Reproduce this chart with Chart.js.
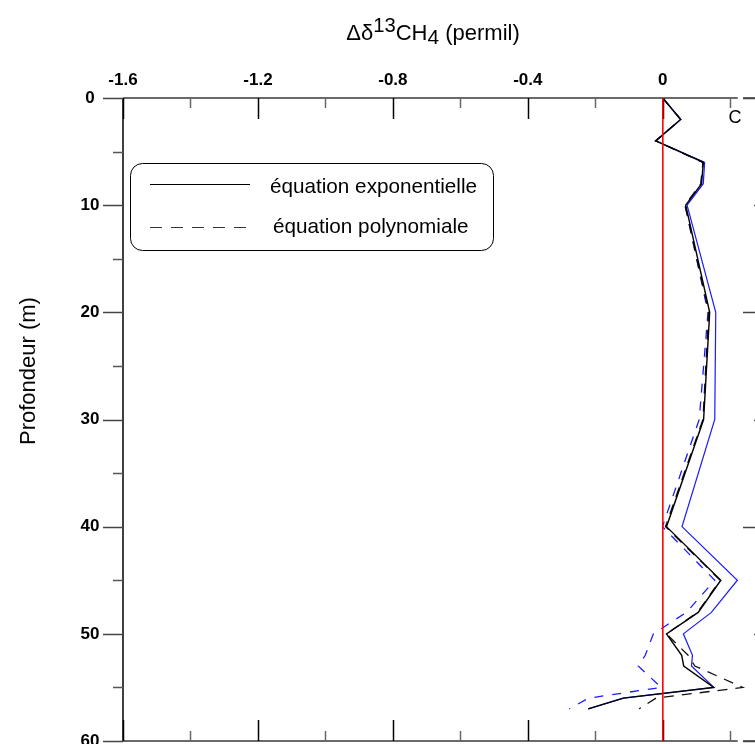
<!DOCTYPE html>
<html><head><meta charset="utf-8">
<script src="https://cdn.jsdelivr.net/npm/chart.js@4.4.0/dist/chart.umd.min.js"></script>
<style>
html,body{margin:0;padding:0;background:#fff;overflow:hidden;width:755px;height:744px;}
#wrap{position:relative;width:755px;height:744px;overflow:hidden;}
#c{position:absolute;left:0;top:0;}
.t{position:absolute;font-family:"Liberation Sans",Arial,sans-serif;color:#000;white-space:nowrap;line-height:1;}
.sup{position:relative;top:-0.42em;font-size:0.92em;}
.sub{position:relative;top:0.18em;font-size:0.95em;}
</style></head><body>
<div id="wrap">
<canvas id="c" width="770" height="744"></canvas>
<div class="t" id="title" style="left:433px;top:33px;font-size:22px;transform:translate(-50%,-50%);">Δδ<span class="sup">13</span>CH<span class="sub">4</span> (permil)</div>
<div class="t" id="ytitle" style="left:28px;top:371px;font-size:22px;transform:translate(-50%,-50%) rotate(-90deg);">Profondeur (m)</div>
<div class="t" id="panel" style="left:735px;top:117px;font-size:18px;transform:translate(-50%,-50%);">C</div>
</div>
<script>
// ---- data ----
const depth     = [0, 2, 4, 6, 8, 10, 20, 30, 40, 45, 48, 50, 52, 53, 55, 56, 57];
const expBlack  = [0, 0.053, -0.021, 0.120, 0.115, 0.068, 0.139, 0.121, 0.011, 0.172, 0.105, 0.011, 0.056, 0.062, 0.151, -0.117, -0.221];
const expBlue   = [0, 0.053, -0.021, 0.124, 0.120, 0.072, 0.157, 0.154, 0.057, 0.221, 0.144, 0.061, 0.088, 0.085, 0.151, -0.117, -0.221];
const polyBlack = [0, 0.053, -0.021, 0.119, 0.113, 0.066, 0.136, 0.119, 0.008, 0.170, 0.103, 0.011, 0.075, 0.095, 0.237, -0.020, -0.070];
const polyBlue  = [0, 0.053, -0.021, 0.119, 0.113, 0.066, 0.134, 0.108, -0.001, 0.154, 0.070, -0.028, -0.052, -0.073, -0.005, -0.220, -0.277];
const zeroLineX = [0, 0];
const zeroLineDepth = [0, 60];

const xLabelTicks = [-1.6, -1.2, -0.8, -0.4, 0];
const xMinorTicks = [-1.4, -1.0, -0.6, -0.2, 0.2];
const yLabelTicks = [0, 10, 20, 30, 40, 50, 60];
const yMinorTicks = [5, 15, 25, 35, 45, 55];
const rightMajorTicks = [0, 20, 40, 60];
const rightMinorTicks = [10, 30, 50];
const legendLabels = ['équation exponentielle', 'équation polynomiale'];

const pts = (xs, ys) => ys.map((d, i) => ({x: xs[i], y: d}));

const axesPlugin = {
  id: 'axesPlugin',
  beforeDatasetsDraw(chart) {
    const {ctx, chartArea: a, scales: {x, y}} = chart;
    ctx.save();
    ctx.strokeStyle = '#6a6a6a'; ctx.lineWidth = 2;
    const gapL = x.getPixelForValue(0.222), gapR = x.getPixelForValue(0.238);
    [a.top, a.bottom].forEach(py => {
      ctx.beginPath(); ctx.moveTo(a.left, py); ctx.lineTo(gapL, py);
      ctx.moveTo(gapR, py); ctx.lineTo(a.right, py); ctx.stroke();
    });
    ctx.strokeStyle = '#000'; ctx.lineWidth = 1.5;
    ctx.beginPath(); ctx.moveTo(a.left, a.top); ctx.lineTo(a.left, a.bottom); ctx.stroke();
    ctx.beginPath(); ctx.moveTo(a.right, a.top); ctx.lineTo(a.right, a.bottom); ctx.stroke();
    const tick = (x1, y1, x2, y2, col) => {
      ctx.strokeStyle = col; ctx.beginPath(); ctx.moveTo(x1, y1); ctx.lineTo(x2, y2); ctx.stroke();
    };
    xLabelTicks.forEach(v => {
      const px = Math.round(x.getPixelForValue(v)) + 0.5;
      tick(px, a.top, px, a.top + 21, '#000');
      tick(px, a.bottom, px, a.bottom - 21, '#000');
    });
    xMinorTicks.forEach(v => {
      const px = Math.round(x.getPixelForValue(v)) + 0.5;
      tick(px, a.top, px, a.top + 10, '#666');
      tick(px, a.bottom, px, a.bottom - 10, '#666');
    });
    yLabelTicks.forEach(v => {
      const py = Math.round(y.getPixelForValue(v)) + 0.5;
      tick(a.left, py, a.left - 20, py, '#444');
    });
    yMinorTicks.forEach(v => {
      const py = Math.round(y.getPixelForValue(v)) + 0.5;
      tick(a.left, py, a.left - 10, py, '#555');
    });
    rightMajorTicks.forEach(v => {
      const py = Math.round(y.getPixelForValue(v)) + 0.5;
      tick(a.right, py, a.right - 21, py, '#444');
    });
    rightMinorTicks.forEach(v => {
      const py = Math.round(y.getPixelForValue(v)) + 0.5;
      tick(a.right, py, a.right - 10, py, '#555');
    });
    ctx.restore();
  },
  afterDraw(chart) {
    const ctx = chart.ctx;
    ctx.save();
    ctx.strokeStyle = '#000'; ctx.lineWidth = 1;
    ctx.beginPath(); ctx.roundRect(130.5, 163.5, 363, 87, 12); ctx.stroke();
    ctx.lineWidth = 1.2;
    ctx.beginPath(); ctx.moveTo(150, 184.5); ctx.lineTo(250, 184.5); ctx.stroke();
    ctx.strokeStyle = '#333';
    ctx.setLineDash([12, 9]);
    ctx.beginPath(); ctx.moveTo(150, 227.5); ctx.lineTo(250, 227.5); ctx.stroke();
    ctx.setLineDash([]);
    ctx.fillStyle = '#000';
    ctx.font = '20.7px "Liberation Sans", Arial, sans-serif';
    ctx.textBaseline = 'alphabetic'; ctx.textAlign = 'left';
    ctx.fillText(legendLabels[0], 270, 193);
    ctx.fillText(legendLabels[1], 273, 233);
    ctx.restore();
  }
};

const tickFont = {family: '"Liberation Sans", Arial, sans-serif', size: 17, weight: 'bold'};

new Chart(document.getElementById('c'), {
  type: 'line',
  data: {
    datasets: [
      {label: 'zero', data: pts(zeroLineX, zeroLineDepth), borderColor: '#ff0000', borderWidth: 1, order: 0},
      {label: legendLabels[0], data: pts(expBlack, depth), borderColor: '#000', borderWidth: 1.4, order: 1},
      {label: legendLabels[1], data: pts(polyBlack, depth), borderColor: '#111', borderWidth: 1.3, borderDash: [10, 8], order: 2},
      {label: legendLabels[1] + ' (2)', data: pts(polyBlue, depth), borderColor: '#1a1aff', borderWidth: 1.3, borderDash: [9, 9], order: 3},
      {label: legendLabels[0] + ' (2)', data: pts(expBlue, depth), borderColor: '#1a1aff', borderWidth: 1.2, order: 4}
    ]
  },
  options: {
    responsive: false,
    devicePixelRatio: 1,
    animation: false,
    indexAxis: 'y',
    layout: {padding: {left: 0, right: 6, top: 0, bottom: 3}},
    elements: {point: {radius: 0, hoverRadius: 0}, line: {tension: 0, fill: false}},
    plugins: {legend: {display: false}, tooltip: {enabled: false}},
    events: [],
    scales: {
      x: {
        type: 'linear', position: 'top', min: -1.6, max: 0.3,
        grid: {display: false, drawTicks: false}, border: {display: false},
        afterBuildTicks: s => { s.ticks = xLabelTicks.map(v => ({value: v})); },
        afterFit: s => { s.height = 98; s.paddingLeft = 0; s.paddingRight = 0; },
        ticks: {font: tickFont, color: '#000', padding: 7, maxRotation: 0, autoSkip: false,
          callback: v => (v === 0 ? '0' : v.toFixed(1))}
      },
      y: {
        type: 'linear', position: 'left', reverse: true, min: 0, max: 60,
        grid: {display: false, drawTicks: false}, border: {display: false},
        afterBuildTicks: s => { s.ticks = yLabelTicks.map(v => ({value: v})); },
        afterFit: s => { s.width = 123; s.paddingTop = 0; s.paddingBottom = 0; },
        ticks: {font: tickFont, color: '#000', padding: 23.5, crossAlign: 'center', autoSkip: false,
          callback: v => String(v)}
      }
    }
  },
  plugins: [axesPlugin]
});
</script>
</body></html>
